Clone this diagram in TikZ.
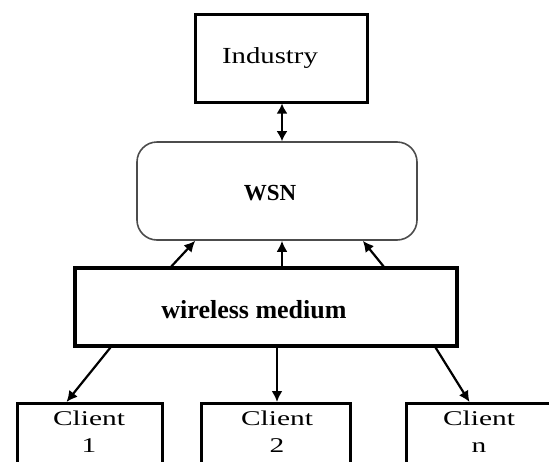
\documentclass[tikz,border=0pt]{standalone}
\usepackage{fontspec}
\setmainfont{Liberation Serif}
\usetikzlibrary{arrows.meta}
\begin{document}
\begin{tikzpicture}[x=1pt,y=-1pt,
  box/.style={draw=black,line width=3pt,rectangle,inner sep=0pt},
  lbl/.style={inner sep=0pt,text=black,anchor=base},
  arr/.style={line width=2.2pt,-{Latex[length=11pt,width=11pt]}},
  darr/.style={line width=2.2pt,{Latex[length=10pt,width=11pt]}-{Latex[length=10pt,width=11pt]}}]
\useasboundingbox (0,0) rectangle (549,461);
\clip (0,0) rectangle (549,461);
% boxes
\node[box,minimum width=172pt,minimum height=88pt] (ind) at (281,58) {};
\node[lbl,font=\fontsize{23}{26}\selectfont] (indt) at (270,63) {\scalebox{1.25}[1]{Industry}};
\node[draw=black!70,line width=1.6pt,rounded corners=20pt,minimum width=280pt,minimum height=98pt,inner sep=0pt] (wsn) at (277,191) {};
\node[lbl,font=\fontsize{23}{26}\selectfont\bfseries] (wsnt) at (270,200) {WSN};
\node[box,line width=3.2pt,minimum width=382pt,minimum height=78pt] (wm) at (266,307) {};
\node[lbl,font=\fontsize{26}{29}\selectfont\bfseries] (wmt) at (254,318) {wireless medium};
\node[box,minimum width=145pt,minimum height=80pt,anchor=north] (c1) at (89.5,402) {};
\node[box,minimum width=149pt,minimum height=80pt,anchor=north] (c2) at (275.5,402) {};
\node[box,minimum width=149pt,minimum height=80pt,anchor=north] (cn) at (480.5,402) {};
\node[lbl,font=\fontsize{21}{24}\selectfont] (c1a) at (89,425) {\scalebox{1.4}[1]{Client}};
\node[lbl,font=\fontsize{21}{24}\selectfont] (c1b) at (89,452) {\scalebox{1.4}[1]{1}};
\node[lbl,font=\fontsize{21}{24}\selectfont] (c2a) at (277,425) {\scalebox{1.4}[1]{Client}};
\node[lbl,font=\fontsize{21}{24}\selectfont] (c2b) at (277,452) {\scalebox{1.4}[1]{2}};
\node[lbl,font=\fontsize{21}{24}\selectfont] (cna) at (479,425) {\scalebox{1.4}[1]{Client}};
\node[lbl,font=\fontsize{21}{24}\selectfont] (cnb) at (479,452) {\scalebox{1.4}[1]{n}};
% connectors
\draw[darr] (ind.south -| 282,0) -- (wsn.north -| 282,0);
\draw[arr] ([xshift=98pt]wm.north west) -- ([xshift=59pt]wsn.south west);
\draw[arr] (wm.north -| 282,0) -- (wsn.south -| 282,0);
\draw[arr] ([xshift=-75pt]wm.north east) -- ([xshift=-55pt]wsn.south east);
\draw[arr] ([xshift=37pt]wm.south west) -- ([xshift=51pt]c1.north west);
\draw[arr] (wm.south -| 277,0) -- (c2.north -| 277,0);
\draw[arr] ([xshift=-23pt]wm.south east) -- ([xshift=65pt]cn.north west);
\end{tikzpicture}
\end{document}
